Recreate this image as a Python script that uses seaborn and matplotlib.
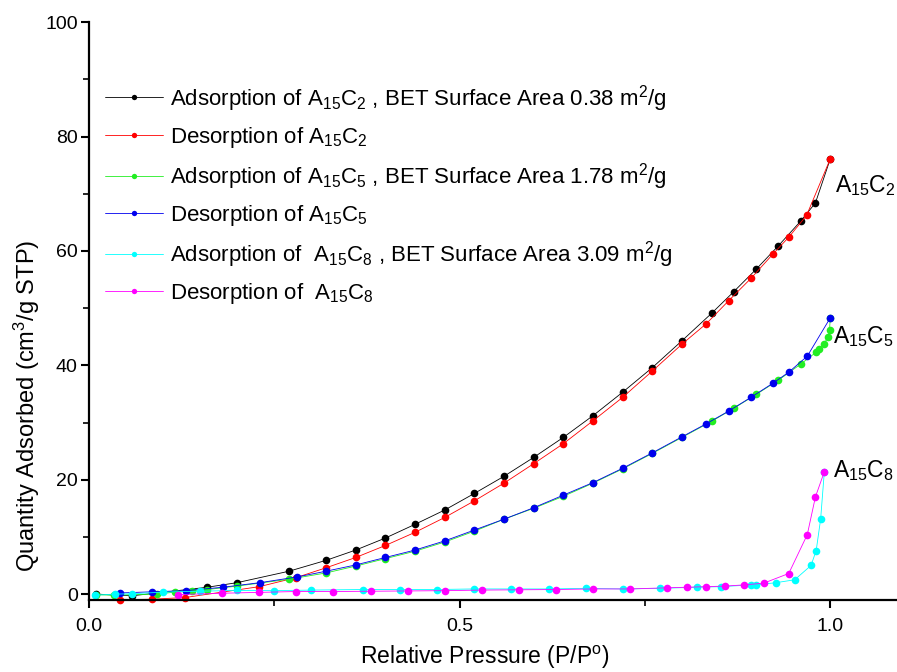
import numpy as np
import pandas as pd
import matplotlib
matplotlib.use('Agg')
import matplotlib.pyplot as plt
import seaborn as sns

# A15C2
c2_ads_x = [0.01, 0.058, 0.16, 0.20, 0.27, 0.32, 0.36, 0.40, 0.44, 0.48, 0.52, 0.56, 0.60, 0.64,
            0.68, 0.72, 0.76, 0.80, 0.84, 0.87, 0.90, 0.93, 0.96, 0.98, 1.0]
c2_ads_y = [0.0, -0.3, 1.2, 2.0, 4.0, 5.9, 7.7, 9.8, 12.2, 14.7, 17.6, 20.6, 23.9, 27.4,
            31.2, 35.3, 39.6, 44.3, 49.1, 52.9, 56.8, 60.9, 65.2, 68.4, 76.1]
c2_des_x = [1.0, 0.968, 0.944, 0.923, 0.893, 0.863, 0.833, 0.80, 0.76, 0.72, 0.68, 0.64, 0.60,
            0.56, 0.52, 0.48, 0.44, 0.40, 0.36, 0.32, 0.28, 0.23, 0.13, 0.085, 0.042]
c2_des_y = [76.1, 66.2, 62.4, 59.5, 55.2, 51.3, 47.3, 43.7, 39.0, 34.4, 30.3, 26.3, 22.8,
            19.4, 16.3, 13.4, 10.8, 8.5, 6.4, 4.6, 2.9, 1.3, -0.6, -0.9, -1.0]

# A15C5
c5_ads_x = [0.01, 0.034, 0.092, 0.116, 0.139, 0.16, 0.20, 0.27, 0.32, 0.36, 0.40, 0.44, 0.48,
            0.52, 0.56, 0.60, 0.64, 0.68, 0.72, 0.76, 0.80, 0.84, 0.87, 0.90, 0.93, 0.96,
            0.981, 0.985, 0.992, 0.997, 0.999, 1.0]
c5_ads_y = [-0.1, -0.2, 0.0, 0.35, 0.5, 0.8, 1.4, 2.6, 3.7, 4.9, 6.2, 7.5, 9.1,
            11.0, 13.1, 15.0, 17.1, 19.4, 21.9, 24.6, 27.4, 30.2, 32.5, 34.9, 37.4, 40.2,
            42.3, 42.8, 43.8, 45.0, 46.2, 48.3]
c5_des_x = [1.0, 0.969, 0.944, 0.923, 0.893, 0.863, 0.833, 0.80, 0.76, 0.72, 0.68, 0.64, 0.60,
            0.56, 0.52, 0.48, 0.44, 0.40, 0.36, 0.32, 0.281, 0.231, 0.181, 0.131, 0.085, 0.042]
c5_des_y = [48.3, 41.6, 38.8, 36.9, 34.4, 32.0, 29.8, 27.5, 24.7, 22.0, 19.5, 17.3, 15.1,
            13.1, 11.2, 9.3, 7.7, 6.4, 5.1, 4.0, 3.0, 2.0, 1.2, 0.6, 0.4, 0.2]

# A15C8
c8_ads_x = [0.008, 0.035, 0.058, 0.10, 0.15, 0.20, 0.25, 0.30, 0.37, 0.42, 0.47, 0.52, 0.57,
            0.62, 0.67, 0.72, 0.77, 0.82, 0.852, 0.893, 0.90, 0.927, 0.952, 0.974, 0.981,
            0.987, 0.992]
c8_ads_y = [-0.2, 0.0, 0.05, 0.35, 0.5, 0.65, 0.6, 0.7, 0.8, 0.8, 0.8, 0.9, 0.9,
            0.9, 1.0, 0.9, 1.0, 1.2, 1.3, 1.6, 1.6, 2.0, 2.5, 5.0, 7.6, 13.1, 21.4]
c8_des_x = [0.992, 0.98, 0.969, 0.944, 0.91, 0.883, 0.858, 0.833, 0.807, 0.78, 0.73, 0.68,
            0.63, 0.58, 0.53, 0.48, 0.43, 0.38, 0.33, 0.28, 0.23, 0.18, 0.12]
c8_des_y = [21.4, 17.0, 10.4, 3.6, 1.9, 1.6, 1.4, 1.3, 1.2, 1.1, 0.9, 0.9,
            0.8, 0.75, 0.7, 0.6, 0.55, 0.5, 0.45, 0.45, 0.3, 0.15, -0.1]

labels = [
    r'Adsorption of A$_{\mathregular{15}}$C$_{\mathregular{2}}$ , BET Surface Area 0.38 m$^{\mathregular{2}}$/g',
    r'Desorption of A$_{\mathregular{15}}$C$_{\mathregular{2}}$',
    r'Adsorption of A$_{\mathregular{15}}$C$_{\mathregular{5}}$ , BET Surface Area 1.78 m$^{\mathregular{2}}$/g',
    r'Desorption of A$_{\mathregular{15}}$C$_{\mathregular{5}}$',
    r'Adsorption of  A$_{\mathregular{15}}$C$_{\mathregular{8}}$ , BET Surface Area 3.09 m$^{\mathregular{2}}$/g',
    r'Desorption of  A$_{\mathregular{15}}$C$_{\mathregular{8}}$',
]
colors = ['black', 'red', '#22ee22', '#0000ee', 'cyan', 'magenta']
series = [(c2_ads_x, c2_ads_y), (c2_des_x, c2_des_y), (c5_ads_x, c5_ads_y),
          (c5_des_x, c5_des_y), (c8_ads_x, c8_ads_y), (c8_des_x, c8_des_y)]

sns.set_style('ticks')
plt.rcParams['font.family'] = ['Liberation Sans', 'DejaVu Sans']
plt.rcParams['mathtext.fontset'] = 'custom'
plt.rcParams['mathtext.rm'] = 'Liberation Sans'
plt.rcParams['mathtext.it'] = 'Liberation Sans'
plt.rcParams['text.color'] = 'black'
plt.rcParams['axes.labelcolor'] = 'black'

fig = plt.figure(figsize=(8.97, 6.72), dpi=100)
ax = fig.add_axes([0.099, 0.107, 0.901, 0.86])

for (xs, ys), c, lab in zip(series, colors, labels):
    df = pd.DataFrame({'x': xs, 'y': ys})
    sns.lineplot(data=df, x='x', y='y', sort=False, color=c, marker='o', markersize=5.5,
                 markeredgewidth=0, linewidth=0.6, label=lab, ax=ax, clip_on=False)

ax.set_xlim(0, 1.09)
ax.set_ylim(-1.05, 100)
ax.set_xticks([0.0, 0.5, 1.0])
ax.set_xticklabels(['0.0', '0.5', '1.0'])
ax.set_xticks([0.25, 0.75], minor=True)
ax.set_yticks([0, 20, 40, 60, 80, 100])
ax.set_yticks([10, 30, 50, 70, 90], minor=True)
ax.tick_params(which='major', direction='out', length=6, width=1.5, labelsize=14,
               colors='black')
ax.tick_params(axis='x', which='major', pad=7)
ax.tick_params(axis='y', which='major', pad=2)
ax.tick_params(which='minor', direction='out', length=4, width=1.2, colors='black')
for s in ['left', 'bottom']:
    ax.spines[s].set_linewidth(1.6)
    ax.spines[s].set_color('black')
sns.despine(ax=ax)

ax.set_xlabel(r'Relative Pressure (P/P$^{\mathregular{o}}$)', fontsize=16.5)
ax.set_ylabel(r'Quantity Adsorbed (cm$^{\mathregular{3}}$/g STP)', fontsize=17)
ax.xaxis.set_label_coords(0.49, -0.075)
ax.yaxis.set_label_coords(-0.058, 0.337)

ax.text(1.007, 70.3, r'A$_{\mathregular{15}}$C$_{\mathregular{2}}$', fontsize=16.5, va='baseline')
ax.text(1.004, 43.9, r'A$_{\mathregular{15}}$C$_{\mathregular{5}}$', fontsize=16.5, va='baseline')
ax.text(1.004, 20.4, r'A$_{\mathregular{15}}$C$_{\mathregular{8}}$', fontsize=16.5, va='baseline')

ax.legend(loc='upper left', bbox_to_anchor=(0.0198, 0.895), frameon=False, fontsize=16,
          borderaxespad=0, borderpad=0, handlelength=2.6, handletextpad=0.35,
          labelspacing=0.5, markerscale=0.7)

fig.savefig('out.png', dpi=100)
